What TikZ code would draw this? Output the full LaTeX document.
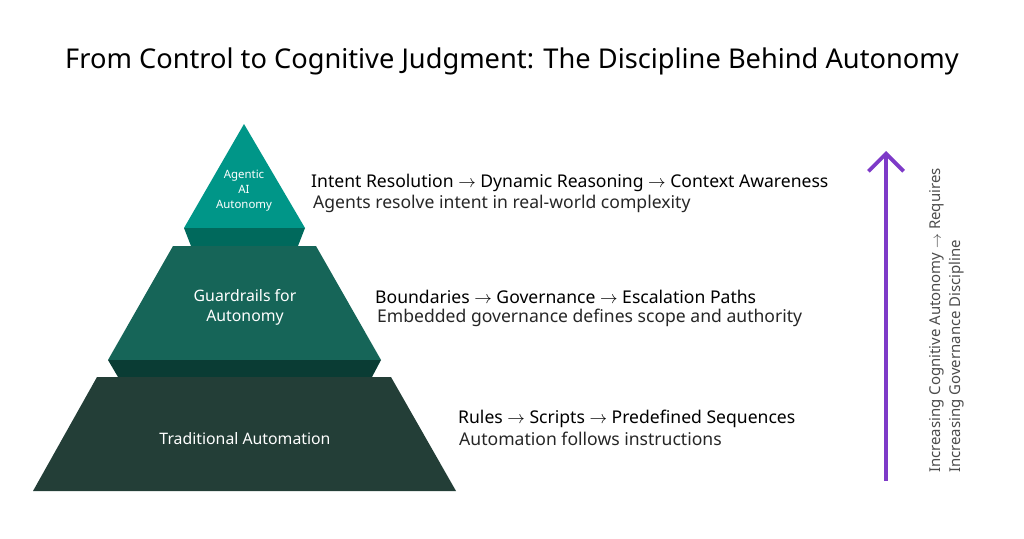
\documentclass[tikz,border=0pt]{standalone}
\usepackage{fontspec}
\setmainfont{Noto Sans}
\usetikzlibrary{arrows.meta}
\definecolor{tealtop}{RGB}{0,150,136}
\definecolor{tealband}{RGB}{0,105,92}
\definecolor{tealmid}{RGB}{22,101,88}
\definecolor{tealdark}{RGB}{10,60,52}
\definecolor{greenbase}{RGB}{35,62,55}
\definecolor{arrowpurple}{RGB}{126,58,200}
\tikzset{
  tier/.style={white, align=center, font=\fontsize{10}{12}\selectfont},
  head/.style={anchor=west, font=\fontsize{10}{12}\selectfont\bfseries},
  sub/.style={anchor=west, font=\fontsize{10}{12}\selectfont, text=black!85}
}
\begin{document}
\begin{tikzpicture}[x=0.02cm, y=-0.02cm]
    \useasboundingbox (0,0) rectangle (1024,538);
    \node[font=\fontsize{15.5}{18}\selectfont\bfseries] (title) at (512,61) {From Control to Cognitive Judgment: The Discipline Behind Autonomy};

    % pyramid
    \fill[tealtop] (244,124) -- (305,228) -- (184,228) -- cycle;
    \fill[tealband] (184,228) -- (305,228) -- (298,246) -- (191,246) -- cycle;
    \fill[tealmid] (173,246) -- (316,246) -- (381,360) -- (108,360) -- cycle;
    \fill[tealdark] (108,360) -- (381,360) -- (372,377) -- (118,377) -- cycle;
    \fill[greenbase] (97,377) -- (391,377) -- (456,491) -- (33,491) -- cycle;

    \node[tier, font=\fontsize{6.5}{8.5}\selectfont] (top) at (244,191) {Agentic\\AI\\Autonomy};
    \node[tier, font=\fontsize{9}{11.5}\selectfont] (mid) at (245,307) {Guardrails for\\Autonomy};
    \node[tier, font=\fontsize{9}{11}\selectfont] (base) at (245,439) {Traditional Automation};

    % descriptions
    \node[head] (h1) at (305,183) {Intent Resolution $\to$ Dynamic Reasoning $\to$ Context Awareness};
    \node[sub] (s1) at (307,204) {Agents resolve intent in real-world complexity};
    \node[head] (h2) at (369,297) {Boundaries $\to$ Governance $\to$ Escalation Paths};
    \node[sub] (s2) at (371,318) {Embedded governance defines scope and authority};
    \node[head] (h3) at (452,419) {Rules $\to$ Scripts $\to$ Predefined Sequences};
    \node[sub] (s3) at (453,439) {Automation follows instructions};

    % scale arrow
    \coordinate (lo) at (886,481);
    \coordinate (hi) at (886,151);
    \draw[arrowpurple, line width=2.2pt, -{Straight Barb[length=10pt,width=20pt]}] (lo) -- (hi);
    \node[rotate=90, anchor=south west, align=left, text=black!70, font=\fontsize{8.5}{11}\selectfont] (lbl) at (970,479) {Increasing Cognitive Autonomy $\to$ Requires\\Increasing Governance Discipline};
\end{tikzpicture}
\end{document}
